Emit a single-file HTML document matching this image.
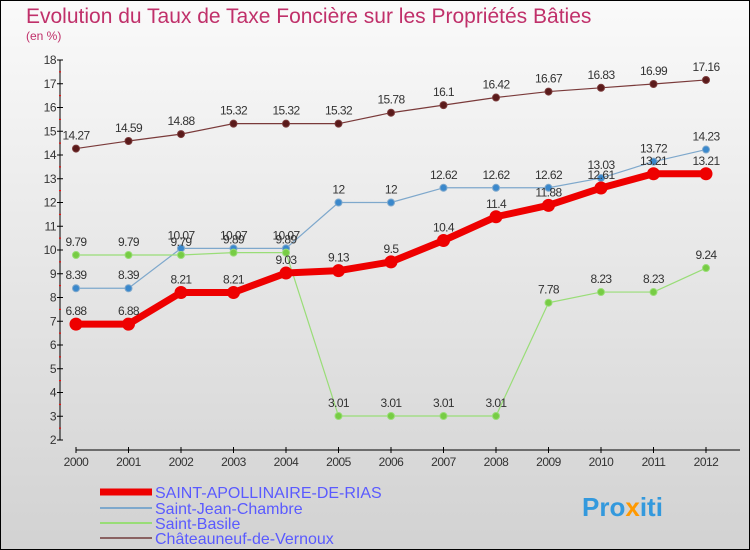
<!DOCTYPE html>
<html><head><meta charset="utf-8"><style>
body{margin:0}
svg{display:block;font-family:"Liberation Sans",sans-serif}
</style></head><body>
<svg id="c" width="750" height="550">
<defs><linearGradient id="bg" x1="0" y1="0" x2="0" y2="1"><stop offset="0" stop-color="#fafafa"/><stop offset="1" stop-color="#d2d2d2"/></linearGradient></defs>
<rect x="0.5" y="0.5" width="749" height="549" fill="url(#bg)" stroke="#000"/>
<text x="26" y="23" font-size="21" fill="#c0306a">Evolution du Taux de Taxe Foncière sur les Propriétés Bâties</text>
<text x="26" y="40" font-size="12" fill="#c0306a">(en %)</text>
<g id="axes"></g><g id="series"></g>
<g>
<line x1="100" y1="492" x2="152" y2="492" stroke="#e00" stroke-width="7"/>
<text x="155" y="498" font-size="16" fill="#5a5aff">SAINT-APOLLINAIRE-DE-RIAS</text>
<line x1="100" y1="508" x2="152" y2="508" stroke="#7ea8cc" stroke-width="2"/>
<text x="155" y="514" font-size="16" fill="#5a5aff">Saint-Jean-Chambre</text>
<line x1="100" y1="523" x2="152" y2="523" stroke="#99dd77" stroke-width="2"/>
<text x="155" y="529" font-size="16" fill="#5a5aff">Saint-Basile</text>
<line x1="100" y1="538" x2="152" y2="538" stroke="#8a6262" stroke-width="2"/>
<text x="155" y="544" font-size="16" fill="#5a5aff">Châteauneuf-de-Vernoux</text>
</g>
<text x="582" y="516" font-size="26" font-weight="bold" fill="#3399dd">Pro<tspan fill="#ff9900">x</tspan>iti</text>
</svg>
<script>
const years=[2000,2001,2002,2003,2004,2005,2006,2007,2008,2009,2010,2011,2012];
const yTicks=[2,3,4,5,6,7,8,9,10,11,12,13,14,15,16,17,18];
const apollinaire=[6.88,6.88,8.21,8.21,9.03,9.13,9.5,10.4,11.4,11.88,12.61,13.21,13.21];
const jean=[8.39,8.39,10.07,10.07,10.07,12,12,12.62,12.62,12.62,13.03,13.72,14.23];
const basile=[9.79,9.79,9.79,9.89,9.89,3.01,3.01,3.01,3.01,7.78,8.23,8.23,9.24];
const chateau=[14.27,14.59,14.88,15.32,15.32,15.32,15.78,16.1,16.42,16.67,16.83,16.99,17.16];
const NS="http://www.w3.org/2000/svg";
const xS=i=>76+i*52.5, yS=v=>440-(v-2)*23.75;
function mk(t,a,p){const e=document.createElementNS(NS,t);for(const k in a)e.setAttribute(k,a[k]);p.appendChild(e);return e;}
const ax=document.getElementById('axes'), sg=document.getElementById('series');
let l=mk('line',{x1:60,y1:yS(18),x2:60,y2:yS(2),stroke:'#000'},ax);


yTicks.forEach(v=>{
 mk('line',{x1:57,x2:63,y1:yS(v),y2:yS(v),stroke:'#000'},ax);
 if(v<18)mk('line',{x1:59,x2:61,y1:yS(v+0.5),y2:yS(v+0.5),stroke:'#f00'},ax);
 const t=mk('text',{x:56,y:yS(v)+4,'font-size':12,fill:'#333','text-anchor':'end','letter-spacing':'-0.5'},ax);t.textContent=v;
 
 
});
l=mk('line',{x1:76,y1:450,x2:740,y2:450,stroke:'#000'},ax);


years.forEach((y,i)=>{
 mk('line',{x1:xS(i),x2:xS(i),y1:447,y2:453,stroke:'#000'},ax);
 const t=mk('text',{x:xS(i),y:466,'font-size':12,fill:'#333','text-anchor':'middle','letter-spacing':'-0.5'},ax);t.textContent=y;
 
 
});
function series(d,name,col,w,r,dot){
 const g=mk('g',{},sg);
 
 
 mk('polyline',{points:d.map((v,i)=>xS(i)+','+yS(v)).join(' '),fill:'none',stroke:col,'stroke-width':w,'stroke-linejoin':'round'},g);
 d.forEach((v,i)=>{
  const c=mk('circle',{cx:xS(i),cy:yS(v),r:r,fill:dot,stroke:col,'stroke-width':1},g);
  
  
  const t=mk('text',{x:xS(i),y:yS(v)-9,'font-size':12,fill:'#333','text-anchor':'middle','letter-spacing':'-0.6'},g);t.textContent=v;
  
  
 });
}
series(chateau,'chateauneuf-series','#7a3a3a',1.2,3.5,'#5a1a1a');
series(jean,'saint-jean-series','#7ea8cc',1.2,3.5,'#3a88cc');
series(basile,'saint-basile-series','#99dd77',1.2,3.5,'#77cc44');
series(apollinaire,'saint-apollinaire-series','#ee0000',7,6,'#ee0000');
</script>
</body></html>
